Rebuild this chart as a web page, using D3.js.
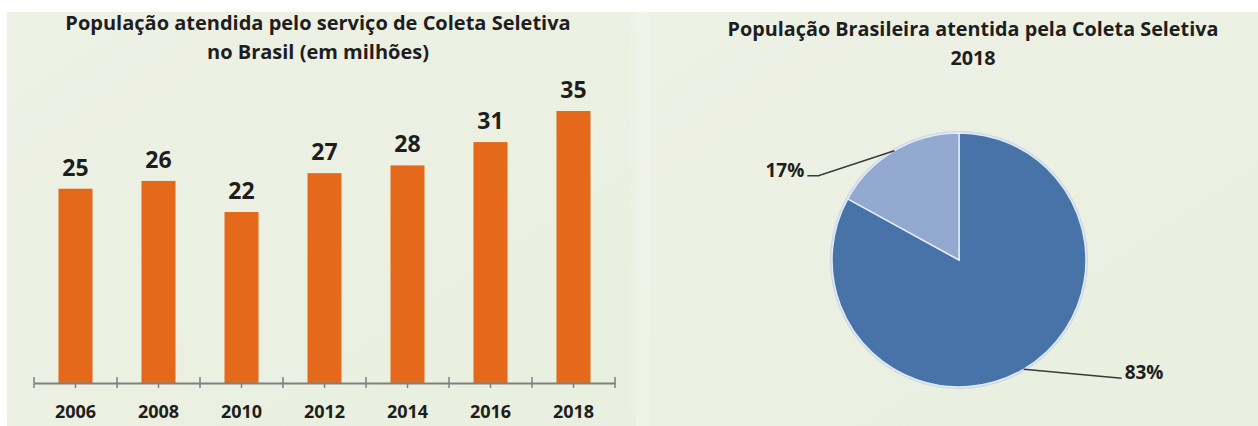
<!DOCTYPE html>
<html lang="pt">
  <head>
    <meta charset="UTF-8">
    <script src="https://d3js.org/d3.v7.min.js"></script>
    <style>
      html,body{
        margin: 0px;
        background: #fff;
      }
      text{ font-family: "Open Sans", Lato, sans-serif; font-weight: bold; fill: #1e1e1e; }
    </style>
  </head>
  <body>
    <svg id="chart" width="1258" height="426"></svg>
  </body>
</html>
<script>
// dados do gráfico de barras
var anos = ["2006", "2008", "2010", "2012", "2014", "2016", "2018"];
var populacao = [25, 26, 22, 27, 28, 31, 35];   // milhões
// dados da pizza (2018)
var fatias = ["atendida", "não atendida"];
var percentuais = [83, 17];

var svg = d3.select("#chart");

// fundos dos dois painéis
var grad = svg.append("defs").append("linearGradient").attr("id", "fundo")
    .attr("x1", 0).attr("x2", 1).attr("y1", 0).attr("y2", 1);
grad.append("stop").attr("offset", 0).attr("stop-color", "#eef1e5");
grad.append("stop").attr("offset", 1).attr("stop-color", "#e9f0df");
svg.append("rect").attr("x", 7).attr("y", 12).attr("width", 623).attr("height", 414).attr("fill", "url(#fundo)");
svg.append("rect").attr("x", 630).attr("y", 12).attr("width", 628).attr("height", 414).attr("fill", "url(#fundo)");
svg.append("rect").attr("x", 636).attr("y", 12).attr("width", 14).attr("height", 414).attr("fill", "#f1f5ea").attr("opacity", 0.7);

// ---------- barras ----------
var x = d3.scaleBand().domain(anos).range([34, 615]).paddingInner(0.59).paddingOuter(0.295);
var y = d3.scaleLinear().domain([0, 35]).range([383, 111]);

var esq = svg.append("g");
esq.append("text").attr("x", 318).attr("y", 30).attr("text-anchor", "middle").style("font-size", "20px")
    .text("População atendida pelo serviço de Coleta Seletiva");
esq.append("text").attr("x", 318).attr("y", 59).attr("text-anchor", "middle").style("font-size", "20px")
    .text("no Brasil (em milhões)");

esq.selectAll("rect.bar").data(populacao).enter().append("rect")
    .attr("class", "bar")
    .attr("x", function(d, i){ return x(anos[i]); })
    .attr("y", function(d){ return y(d); })
    .attr("width", x.bandwidth())
    .attr("height", function(d){ return y(0) - y(d); })
    .attr("fill", "#e4691b");

esq.selectAll("text.val").data(populacao).enter().append("text")
    .attr("class", "val")
    .attr("x", function(d, i){ return x(anos[i]) + x.bandwidth() / 2; })
    .attr("y", function(d){ return y(d) - 13; })
    .attr("text-anchor", "middle")
    .style("font-size", "23px")
    .text(function(d){ return d; });

// eixo x
var eixo = esq.append("g").attr("transform", "translate(0," + y(0) + ")")
    .call(d3.axisBottom(x).tickSize(5).tickSizeOuter(0).tickPadding(17));
eixo.select(".domain").attr("stroke", "#808080").attr("stroke-width", 2);
eixo.selectAll(".tick line").attr("stroke", "#808080").attr("stroke-width", 1.5);
eixo.selectAll(".tick text").style("font-size", "18px").style("font-family", "'Open Sans', Lato, sans-serif")
    .attr("fill", "#1e1e1e");
// marcas entre categorias
var limites = d3.range(anos.length + 1).map(function(i){ return x.range()[0] + i * x.step(); });
eixo.selectAll("line.lim").data(limites).enter().append("line")
    .attr("class", "lim")
    .attr("x1", function(d){ return d; }).attr("x2", function(d){ return d; })
    .attr("y1", -6).attr("y2", 5)
    .attr("stroke", "#808080").attr("stroke-width", 1.5);

// ---------- pizza ----------
var cx = 959, cy = 260, raio = 127;
var dir = svg.append("g");
dir.append("text").attr("x", 973).attr("y", 36).attr("text-anchor", "middle").style("font-size", "19.8px")
    .text("População Brasileira atentida pela Coleta Seletiva");
dir.append("text").attr("x", 973).attr("y", 65).attr("text-anchor", "middle").style("font-size", "19.8px")
    .text("2018");

var cores = d3.scaleOrdinal().domain(fatias).range(["#4873a8", "#93a9d0"]);
var pie = d3.pie().sort(null).value(function(d){ return d; });
var arco = d3.arc().innerRadius(0).outerRadius(raio);
var borda = d3.arc().innerRadius(raio).outerRadius(raio);
var arcs = pie(percentuais);

var gp = dir.append("g").attr("transform", "translate(" + cx + "," + cy + ")");
gp.append("circle").attr("r", raio + 1).attr("fill", "none").attr("stroke", "#c9d8ec").attr("stroke-width", 2);
gp.selectAll("path").data(arcs).enter().append("path")
    .attr("d", arco)
    .attr("fill", function(d, i){ return cores(fatias[i]); })
    .attr("stroke", "#e4ecf6").attr("stroke-width", 1.5);

// rótulos com linhas de chamada
var desvio = [[98, 9], [-76, 25]];
var reta = [0, 11];
arcs.forEach(function(a, i){
  var p = borda.centroid(a);
  var q = [p[0] + desvio[i][0], p[1] + desvio[i][1]];
  var dirc = desvio[i][0] > 0 ? 1 : -1;
  var fim = [q[0] + dirc * reta[i], q[1]];
  gp.append("path").attr("d", d3.line()([p, q, fim])).attr("fill", "none")
    .attr("stroke", "#3a3a3a").attr("stroke-width", 1.6);
  gp.append("text").attr("x", fim[0] + dirc * 3).attr("y", q[1] + 1)
    .attr("text-anchor", dirc > 0 ? "start" : "end")
    .style("font-size", "19px")
    .text(percentuais[i] + "%");
});
</script>
